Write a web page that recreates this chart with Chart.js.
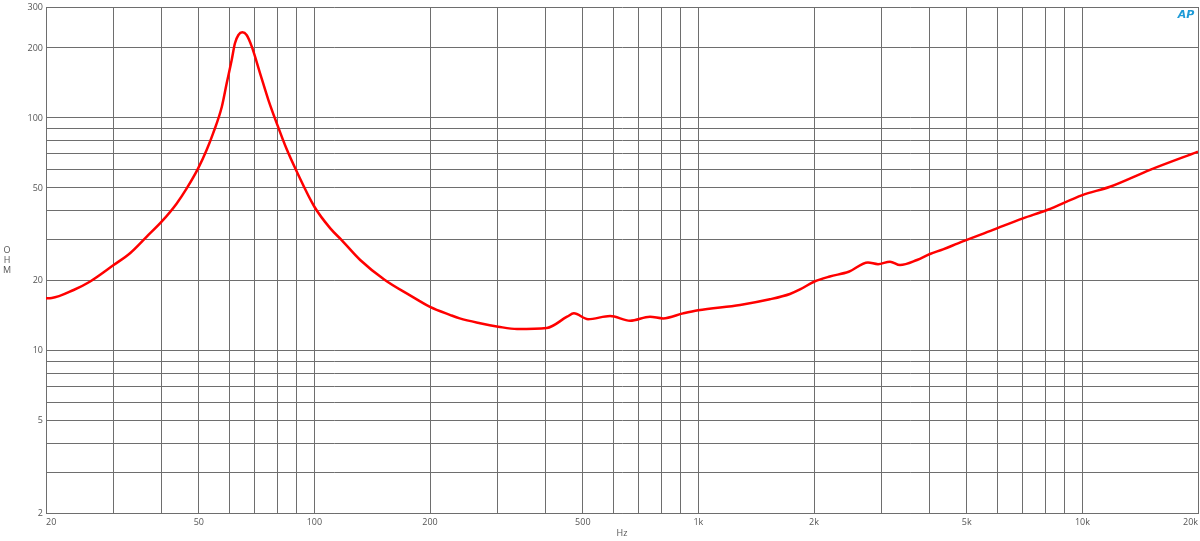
<!DOCTYPE html>
<html>
<head>
<meta charset="utf-8">
<script src="https://cdn.jsdelivr.net/npm/chart.js@4/dist/chart.umd.min.js"></script>
<style>
  html, body { margin: 0; padding: 0; background: #ffffff; }
  #wrap { position: relative; width: 1200px; height: 541px; }
</style>
</head>
<body>
<div id="wrap"><canvas id="c" width="1200" height="541"></canvas></div>
<script>
// ---- data ----
const freqHz = [20, 20.7, 23.6, 26, 30, 33.1, 36.6, 40, 43.8, 46.5, 49.8, 52.4, 54.5, 57.4, 59.1, 60.9, 62.1, 63.4, 64.9, 66.6, 68.7, 72.2, 75.9, 79.8, 84.5, 90, 100, 110, 117.6, 131.6, 152.6, 177, 200, 226, 239, 270, 301, 337, 403, 455, 474, 516, 589, 664, 748, 809, 912, 998, 1284, 1535, 1731, 1839, 2000, 2198, 2462, 2764, 2936, 3155, 3350, 3709, 4009, 4335, 4742, 5850, 7000, 8090, 10000, 11800, 15000, 20000];
const impedanceOhm = [16.76, 16.8, 18.2, 19.75, 23.3, 26.2, 30.9, 35.8, 42.9, 49.8, 60.7, 72.8, 86, 111.7, 140.9, 177.5, 209.5, 227.4, 233.5, 227.4, 202.6, 155.6, 119.4, 94.8, 74, 58.7, 41.5, 33.5, 29.9, 24.5, 20.1, 17.3, 15.4, 14.2, 13.74, 13.1, 12.66, 12.36, 12.49, 13.97, 14.44, 13.63, 14.06, 13.42, 13.97, 13.74, 14.44, 14.9, 15.7, 16.6, 17.5, 18.3, 19.75, 20.8, 21.8, 23.9, 23.5, 24.1, 23.3, 24.5, 26.0, 27.2, 28.9, 33.0, 37.0, 40.2, 46.6, 50.6, 59.8, 71.6];

const xGridValues = [20, 30, 40, 50, 60, 70, 80, 90, 100, 200, 300, 400, 500, 600, 700, 800, 900, 1000, 2000, 3000, 4000, 5000, 6000, 7000, 8000, 9000, 10000, 20000];
const xLabelValues = [20, 50, 100, 200, 500, 1000, 2000, 5000, 10000, 20000];
const xLabelTexts = ['20', '50', '100', '200', '500', '1k', '2k', '5k', '10k', '20k'];

const yGridValues = [2, 3, 4, 5, 6, 7, 8, 9, 10, 20, 30, 40, 50, 60, 70, 80, 90, 100, 200, 300];
const yLabelValues = [2, 5, 10, 20, 50, 100, 200, 300];

const xTitle = 'Hz';
const yTitleLetters = ['O', 'H', 'M'];
const logoText = 'AP';

// ---- chart ----
const gridColor = '#6e6e6e';
const labelColor = '#555555';
const tickFont = { family: 'Open Sans', size: 9 };

const points = freqHz.map((f, i) => ({ x: f, y: impedanceOhm[i] }));

const extraText = {
  id: 'extraText',
  afterDraw(chart) {
    const ctx = chart.ctx;
    const area = chart.chartArea;
    ctx.save();
    ctx.fillStyle = labelColor;
    ctx.font = '9px "Open Sans"';
    ctx.textAlign = 'center';
    ctx.textBaseline = 'middle';
    const yMid = (area.top + area.bottom) / 2;
    yTitleLetters.forEach((ch, i) => {
      ctx.fillText(ch, 7, yMid - 10 + i * 10);
    });
    ctx.fillText(xTitle, (area.left + area.right) / 2, 533);
    // logo
    ctx.fillStyle = '#1f9bd7';
    ctx.font = 'italic bold 11px "DejaVu Sans"';
    ctx.fillText(logoText, area.right - 12, 15);
    ctx.restore();
  }
};

new Chart(document.getElementById('c'), {
  type: 'line',
  data: {
    datasets: [{
      data: points,
      borderColor: '#ff0000',
      borderWidth: 2.5,
      pointRadius: 0,
      fill: false,
      cubicInterpolationMode: 'monotone'
    }]
  },
  options: {
    responsive: false,
    animation: false,
    events: [],
    layout: { padding: { top: 7, right: 2, left: 0, bottom: 0 } },
    plugins: { legend: { display: false }, tooltip: { enabled: false } },
    scales: {
      x: {
        type: 'logarithmic',
        min: 20,
        max: 20000,
        border: { display: true, color: gridColor, width: 1 },
        grid: { color: gridColor, lineWidth: 1, drawTicks: false },
        afterBuildTicks(scale) { scale.ticks = xGridValues.map(v => ({ value: v })); },
        afterFit(scale) { scale.height = 28; scale.paddingLeft = 0; scale.paddingRight = 0; },
        ticks: {
          autoSkip: false,
          maxRotation: 0,
          minRotation: 0,
          align: 'inner',
          padding: 4,
          color: labelColor,
          font: tickFont,
          callback(value) {
            const i = xLabelValues.indexOf(value);
            return i >= 0 ? xLabelTexts[i] : '';
          }
        }
      },
      y: {
        type: 'logarithmic',
        min: 2,
        max: 300,
        border: { display: true, color: gridColor, width: 1 },
        grid: { color: gridColor, lineWidth: 1, drawTicks: false },
        afterBuildTicks(scale) { scale.ticks = yGridValues.map(v => ({ value: v })); },
        afterFit(scale) { scale.width = 46; scale.paddingTop = 0; scale.paddingBottom = 0; },
        ticks: {
          autoSkip: false,
          padding: 3,
          color: labelColor,
          font: tickFont,
          callback(value) {
            return yLabelValues.includes(value) ? String(value) : '';
          }
        }
      }
    }
  },
  plugins: [extraText]
});
</script>
</body>
</html>
